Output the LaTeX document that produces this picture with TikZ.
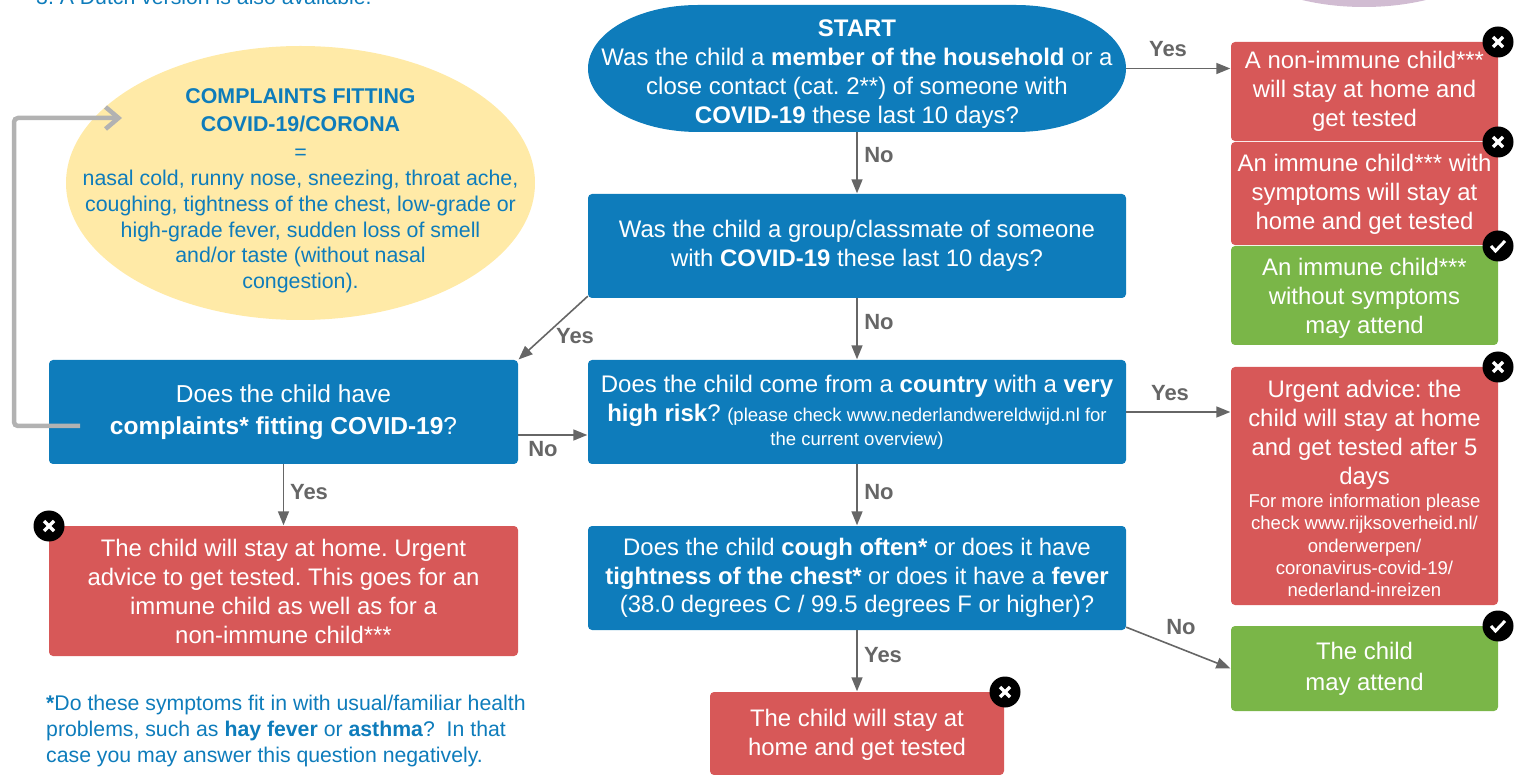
\documentclass[tikz,border=0pt]{standalone}
\usepackage{fontspec}
\setmainfont{Liberation Sans}
\usetikzlibrary{shapes.geometric,arrows.meta,calc}
\definecolor{cblue}{HTML}{0E7CBB}
\definecolor{cred}{HTML}{D75858}
\definecolor{cgreen}{HTML}{7AB648}
\definecolor{cyellow}{HTML}{FFEAA7}
\definecolor{cpurple}{HTML}{D1BCD2}
\definecolor{cgrey}{HTML}{666666}
\definecolor{cline}{HTML}{B2B2B2}
\tikzset{
  lbl/.style={font=\fontsize{23.9}{29}\selectfont,text=white,align=center,inner sep=0pt},
  bx/.style={lbl,rectangle,rounded corners=4pt,minimum width=#1},
  qbox/.style={bx=538pt,fill=cblue},
  redbox/.style={bx=#1,fill=cred},
  greenbox/.style={bx=267pt,fill=cgreen},
  arr/.style={draw=cgrey,line width=1.6pt,-{Triangle[length=14pt,width=11pt,fill=cgrey]},shorten >=0.5pt},
  ans/.style={font=\bfseries\fontsize{22}{26}\selectfont,text=cgrey,inner sep=0pt},
  note/.style={font=\fontsize{21.35}{25.7}\selectfont,text=cblue,inner sep=0pt},
  foottext/.style={font=\fontsize{21.25}{25.7}\selectfont,text=cblue,inner sep=0pt},
  badge/.style={circle,fill=black,minimum size=31pt,inner sep=0pt},
  markline/.style={draw=white,line width=3.4pt},
}
\newcommand{\badgex}[2]{\node[badge] (#1) at #2 {};
  \draw[markline] ($(#1.center)+(-5,-5)$) -- ($(#1.center)+(5,5)$);
  \draw[markline] ($(#1.center)+(-5,5)$) -- ($(#1.center)+(5,-5)$);}
\newcommand{\badgec}[2]{\node[badge] (#1) at #2 {};
  \draw[markline,line width=3pt] ($(#1.center)+(-7,0)$) -- ($(#1.center)+(-2.5,5)$) -- ($(#1.center)+(7,-5)$);}
\newcommand{\smalltxt}{\fontsize{18.55}{22.3}\selectfont}
\newcommand{\tl}[1]{\rule{0pt}{#1pt}}
\begin{document}
\frenchspacing
\begin{tikzpicture}[x=1pt,y=-1pt]
\useasboundingbox (0,0) rectangle (1519,775);
\node[foottext,anchor=base west] (toptext) at (36,4.5) {3. A Dutch version is also available.};
\node[ellipse,fill=cpurple,minimum width=270pt,minimum height=126pt,inner sep=0pt] (purple) at (1364,-56) {};
% yellow ellipse
\node[ellipse,fill=cyellow,minimum width=469pt,minimum height=274pt,inner sep=0pt] (yellow) at (300.5,183) {};
\node[note,align=center] (ytext) at (300.5,191) {\textbf{COMPLAINTS FITTING}\\[2.3pt]\textbf{COVID-19/CORONA}\\[2.3pt]=\\nasal cold, runny nose, sneezing, throat ache,\\coughing, tightness of the chest, low-grade or\\high-grade fever, sudden loss of smell\\and/or taste (without nasal\\congestion).};
% question nodes
\fill[cblue] (698,5) -- (1016,5) arc[start angle=90,end angle=-90,x radius=110pt,y radius=63.5pt] -- (698,132) arc[start angle=270,end angle=90,x radius=110pt,y radius=63.5pt] -- cycle;
\node[lbl,minimum width=538pt,minimum height=127pt,font=\fontsize{24}{29}\selectfont] (start) at (857,68.5) {\tl{27.5}\textbf{START}\\Was the child a \textbf{member of the household} or a\\close contact (cat. 2**) of someone with\\\textbf{COVID-19} these last 10 days?};
\node[qbox,minimum height=104pt] (q2) at (857,246) {Was the child a group/classmate of someone\\with \textbf{COVID-19} these last 10 days?};
\node[qbox,minimum height=104pt,font=\fontsize{24}{29}\selectfont] (q3) at (857,412) {\tl{18.5}Does the child come from a \textbf{country} with a \textbf{very}\\\textbf{high risk}? {\smalltxt (please check www.nederlandwereldwijd.nl for}\\[-5pt]{\smalltxt the current overview)}};
\node[qbox,minimum height=104pt] (q4) at (857,578) {Does the child \textbf{cough often*} or does it have\\[-0.5pt]\textbf{tightness of the chest*} or does it have a \textbf{fever}\\[-0.5pt](38.0 degrees C / 99.5 degrees F or higher)?};
\node[bx=469pt,fill=cblue,minimum height=104pt,font=\fontsize{24.5}{32}\selectfont] (q0) at (283.5,412) {Does the child have\\\textbf{complaints* fitting COVID-19}?};
% result nodes
\node[redbox=469pt,minimum height=130pt] (rleft) at (283.5,591) {The child will stay at home. Urgent\\advice to get tested. This goes for an\\immune child as well as for a\\non-immune child***};
\node[redbox=294pt,minimum height=83pt] (rbottom) at (857,733.5) {\tl{19.5}The child will stay at\\home and get tested};
\node[redbox=267pt,minimum height=99pt] (r1) at (1364.5,91.5) {A non-immune child***\\will stay at home and\\get tested};
\node[redbox=267pt,minimum height=103pt] (r2) at (1364.5,193.5) {\tl{19.5}An immune child*** with\\symptoms will stay at\\home and get tested};
\node[greenbox,minimum height=99pt] (g3) at (1364.5,295.5) {\tl{23.5}An immune child***\\without symptoms\\may attend};
\node[redbox=267pt,minimum height=238pt] (r4) at (1364.5,486) {\tl{22.5}Urgent advice: the\\child will stay at home\\and get tested after 5\\days\\[-6pt]{\smalltxt For more information please}\\[-6.7pt]{\smalltxt check www.rijksoverheid.nl/}\\[-6.7pt]{\smalltxt onderwerpen/}\\[-6.7pt]{\smalltxt coronavirus-covid-19/}\\[-6.7pt]{\smalltxt nederland-inreizen}};
\node[greenbox,minimum height=85pt,font=\fontsize{23.9}{31}\selectfont] (g5) at (1364.5,668.5) {The child\\may attend};
% connectors
\draw[arr] (start.south) -- (q2.north);
\draw[arr] (q2.south) -- (q3.north);
\draw[arr] (q3.south) -- (q4.north);
\draw[arr] (q4.south) -- (rbottom.north);
\draw[arr] (q0.south) -- (rleft.north);
\draw[arr] (start.east) -- (r1.west |- start.east);
\draw[arr] (q3.east) -- (r4.west |- q3.east);
\draw[arr] ([yshift=2pt]q2.south west) -- (q0.north east);
\draw[arr] ([yshift=-23pt]q0.east) -- ([yshift=-23pt]q3.west);
\draw[arr] ([yshift=3pt]q4.south east) -- (g5.west);
% loop back
\coordinate (loopstart) at (80,426);
\coordinate (looptip) at (122,118);
\draw[draw=cline,line width=4.5pt,rounded corners=4pt,-{Straight Barb[length=13pt,width=22pt,line width=4.5pt]}] (loopstart) -- (14,426) -- (14,118) -- (looptip);
% answers
\node[ans] (a1) at (1168,49) {Yes};
\node[ans] (a2) at (879,155) {No};
\node[ans] (a3) at (879,322) {No};
\node[ans] (a4) at (575,336) {Yes};
\node[ans] (a5) at (1170,393) {Yes};
\node[ans] (a6) at (543,449) {No};
\node[ans] (a7) at (879,492) {No};
\node[ans] (a8) at (309,492) {Yes};
\node[ans] (a9) at (1181,627) {No};
\node[ans] (a10) at (883,655) {Yes};
% footnote
\node[foottext,anchor=base west,align=left] (foot) at (46,762) {\textbf{*}Do these symptoms fit in with usual/familiar health\\problems, such as \textbf{hay fever} or \textbf{asthma}?\ \ In that\\case you may answer this question negatively.};
% badges
\badgex{b1}{(1498,42)}
\badgex{b2}{(1498,142)}
\badgec{b3}{(1498,246)}
\badgex{b4}{(1498,367)}
\badgec{b5}{(1498,626)}
\badgex{b6}{(49,526)}
\badgex{b7}{(1005,692)}
\end{tikzpicture}
\end{document}
